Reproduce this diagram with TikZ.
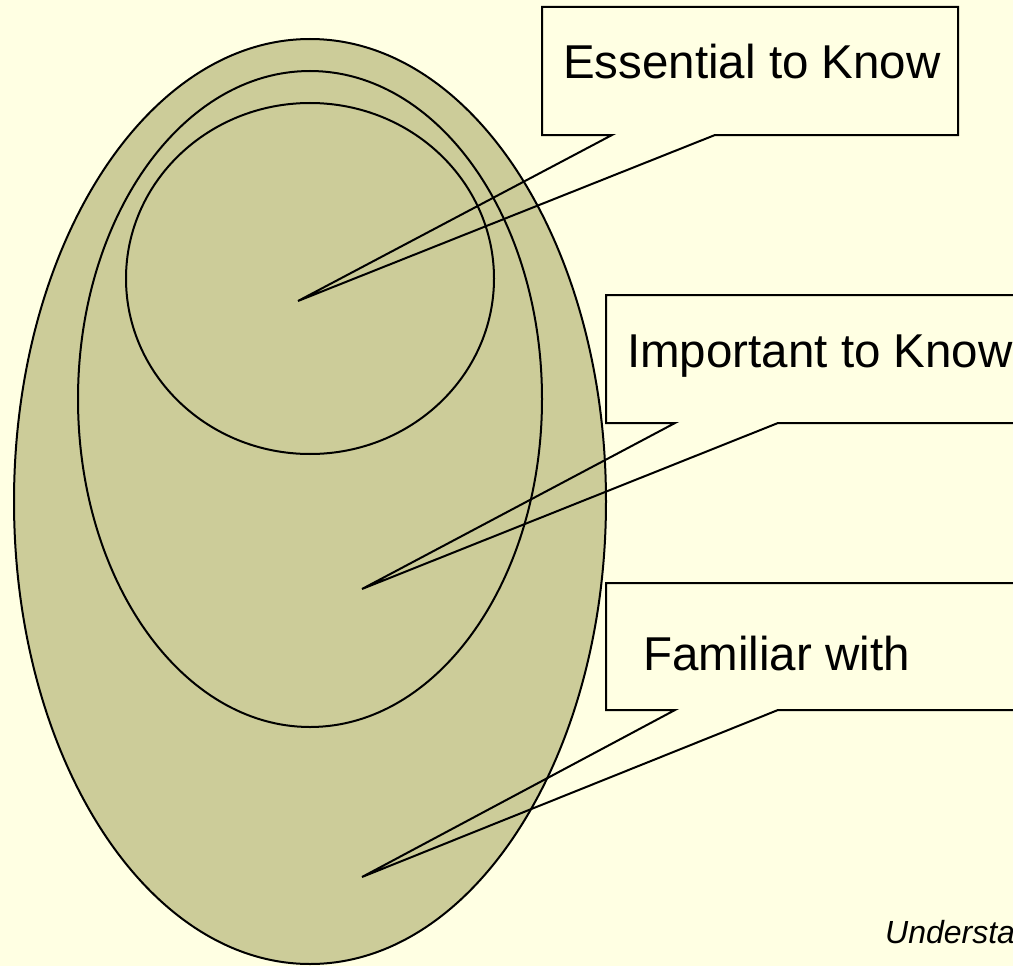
\documentclass[tikz,border=0pt]{standalone}
\usepackage{fontspec}
\setmainfont{Liberation Sans}
\usepackage{tikz}
\usetikzlibrary{positioning}

\definecolor{bgyellow}{RGB}{255,255,227}
\definecolor{olive}{RGB}{204,204,153}

\begin{document}
\begin{tikzpicture}[
    x=1pt, y=-1pt,
    ring/.style={draw=black, fill=olive, line width=2pt},
    callout/.style={draw=black, line width=2pt, line join=miter},
    label/.style={anchor=base west, inner sep=0pt, font=\fontsize{47.5}{57}\selectfont},
    source/.style={anchor=base west, inner sep=0pt, font=\fontsize{32}{38}\selectfont\itshape}
  ]
    \fill[bgyellow] (0,0) rectangle (1013,966);
    \useasboundingbox (0,0) rectangle (1013,966);

    % nested levels
    \filldraw[ring] (310,501.5) ellipse [x radius=296, y radius=462.5];
    \filldraw[ring] (310,399) ellipse [x radius=232, y radius=328];
    \filldraw[ring] (310,278.5) ellipse [x radius=184, y radius=175.5];

    \coordinate (tipEssential) at (298,301);
    \coordinate (tipImportant) at (362,589);
    \coordinate (tipFamiliar) at (362,877);

    % callouts
    \draw[callout] (612,135) -- (542,135) -- (542,7) -- (958,7) -- (958,135)
      -- (715,135) -- (tipEssential) -- cycle;
    \draw[callout] (1030,423) -- (778,423) -- (tipImportant) -- (675,423)
      -- (606,423) -- (606,295) -- (1030,295);
    \draw[callout] (1030,710) -- (778,710) -- (tipFamiliar) -- (675,710)
      -- (606,710) -- (606,583) -- (1030,583);

    \node[label] (essential) at (563,79) {Essential to Know};
    \node[label] (important) at (627,367) {Important to Know};
    \node[label] (familiar) at (643,670) {Familiar with};
    \node[source] (understand) at (885,943) {Understa};
  \end{tikzpicture}
\end{document}
